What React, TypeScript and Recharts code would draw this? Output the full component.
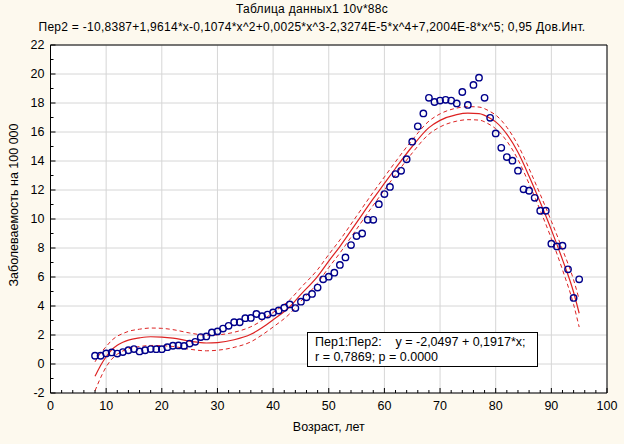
import React from "react";
import { ComposedChart, Scatter, Line, XAxis, YAxis, CartesianGrid } from "recharts";

// observed values, ages 8..95
const ages = [
  8, 9, 10, 11, 12, 13, 14, 15, 16, 17, 18, 19, 20, 21, 22, 23, 24, 25, 26, 27, 28, 29,
  30, 31, 32, 33, 34, 35, 36, 37, 38, 39, 40, 41, 42, 43, 44, 45, 46, 47, 48, 49, 50, 51,
  52, 53, 54, 55, 56, 57, 58, 59, 60, 61, 62, 63, 64, 65, 66, 67, 68, 69, 70, 71, 72, 73,
  74, 75, 76, 77, 78, 79, 80, 81, 82, 83, 84, 85, 86, 87, 88, 89, 90, 91, 92, 93, 94, 95,
];
const rates = [
  0.57, 0.57, 0.73, 0.8, 0.72, 0.82, 0.95, 1.03, 0.87, 0.95, 1.03, 1.02, 1.02, 1.16, 1.26, 1.28, 1.25, 1.41, 1.53, 1.86, 1.9, 2.18,
  2.25, 2.44, 2.63, 2.88, 2.88, 3.16, 3.18, 3.45, 3.3, 3.41, 3.55, 3.69, 3.88, 4.11, 3.86, 4.3, 4.6, 4.83, 5.27, 5.84, 6.02, 6.3,
  6.83, 7.35, 8.2, 8.82, 9.0, 9.94, 9.94, 11.02, 11.72, 12.21, 13.1, 13.32, 14.12, 15.33, 16.39, 17.28, 18.36, 18.07, 18.17, 18.22, 18.17, 17.97,
  18.76, 17.87, 19.25, 19.75, 18.36, 16.98, 15.9, 14.91, 14.27, 14.02, 13.33, 12.05, 11.95, 11.46, 10.57, 10.57, 8.3, 8.11, 8.16, 6.53, 4.56, 5.84,
];

// fitted curve and 0.95 band
const curveAges = [8, 9, 10, 11, 12, 13, 14, 16, 18, 20, 22, 25, 28, 30, 33, 36, 38, 40, 43, 45, 48, 50, 52, 55, 58, 60, 62, 65, 68, 70, 73, 75, 77, 79, 80, 82, 84, 86, 88, 90, 92, 94, 95];
const fitValues = [-0.85, -0.1, 0.5, 0.98, 1.3, 1.5, 1.65, 1.8, 1.88, 1.86, 1.79, 1.58, 1.45, 1.48, 1.67, 2.05, 2.5, 3.05, 3.95, 4.8, 6.05, 7.1, 8.1, 9.75, 11.4, 12.45, 13.5, 15.0, 16.3, 16.8, 17.2, 17.3, 17.27, 16.95, 16.7, 15.85, 14.6, 12.95, 11.15, 9.25, 7.2, 4.95, 3.5];
const upperValues = [0.15, 0.75, 1.2, 1.63, 1.92, 2.1, 2.25, 2.4, 2.48, 2.46, 2.37, 2.14, 1.99, 2.01, 2.19, 2.57, 3.0, 3.55, 4.43, 5.27, 6.51, 7.55, 8.55, 10.2, 11.85, 12.9, 13.95, 15.45, 16.75, 17.25, 17.65, 17.75, 17.72, 17.41, 17.17, 16.33, 15.1, 13.47, 11.7, 9.85, 7.9, 5.8, 4.45];
const lowerValues = [-1.85, -0.95, -0.2, 0.33, 0.68, 0.9, 1.05, 1.2, 1.28, 1.26, 1.21, 1.02, 0.91, 0.95, 1.15, 1.53, 2.0, 2.55, 3.47, 4.33, 5.59, 6.65, 7.65, 9.3, 10.95, 12.0, 13.05, 14.55, 15.85, 16.35, 16.75, 16.85, 16.82, 16.49, 16.23, 15.37, 14.1, 12.43, 10.6, 8.65, 6.5, 4.1, 2.55];

const xTicks = Array.from({ length: 51 }, (_, i) => i * 2);
const yTicks = Array.from({ length: 25 }, (_, i) => i - 2);
const xGrid = [0, 10, 20, 30, 40, 50, 60, 70, 80, 90, 100];
const yGrid = [-2, 0, 2, 4, 6, 8, 10, 12, 14, 16, 18, 20, 22];

const points = ages.map((a, i) => ({ age: a, value: rates[i] }));
const curve = curveAges.map((a, i) => ({ age: a, fit: fitValues[i], hi: upperValues[i], lo: lowerValues[i] }));

const W = 624;
const H = 444;
const LEFT = 50.5;
const RIGHT = 607;
const TOP = 45;
const BOTTOM = 393;
const FONT = "'Liberation Sans', Arial, sans-serif";
const RED = "#dd2222";

const BottomTick = (p: any) => {
  const v = p.payload.value;
  const major = v % 10 === 0;
  const x = p.payload.coordinate;
  return (
    <g>
      <line x1={x} x2={x} y1={BOTTOM} y2={BOTTOM - (major ? 5 : 3)} stroke="#000" />
      {major && (
        <text x={x} y={BOTTOM + 17} textAnchor="middle" fontSize={12.5} fontFamily={FONT} fill="#000">
          {v}
        </text>
      )}
    </g>
  );
};

const TopTick = (p: any) => {
  const v = p.payload.value;
  const x = p.payload.coordinate;
  return <line x1={x} x2={x} y1={TOP} y2={TOP + (v % 10 === 0 ? 5 : 3)} stroke="#000" />;
};

const LeftTick = (p: any) => {
  const v = p.payload.value;
  const major = v % 2 === 0;
  const y = p.payload.coordinate;
  return (
    <g>
      <line x1={LEFT} x2={LEFT + (major ? 5 : 3)} y1={y} y2={y} stroke="#000" />
      {major && (
        <text x={LEFT - 6} y={y + 4} textAnchor="end" fontSize={12.5} fontFamily={FONT} fill="#000">
          {v}
        </text>
      )}
    </g>
  );
};

const RightTick = (p: any) => {
  const v = p.payload.value;
  const y = p.payload.coordinate;
  return <line x1={RIGHT} x2={RIGHT - (v % 2 === 0 ? 5 : 3)} y1={y} y2={y} stroke="#000" />;
};

const Dot = (p: any) => (
  <circle cx={p.cx} cy={p.cy} r={3.2} fill="none" stroke="#00008b" strokeWidth={1.4} />
);

const App = () => {
  return (
    <div style={{ position: "fixed", left: 0, top: 0, width: W, height: H, background: "#fdf9ee", fontFamily: FONT }}>
      <div style={{ position: "absolute", left: 0, width: W, top: 2, textAlign: "center", fontSize: 12, letterSpacing: "0.3px" }}>
        Таблица данных1 10v*88c
      </div>
      <div style={{ position: "absolute", left: 0, width: W, top: 20, textAlign: "center", fontSize: 12, letterSpacing: "0.27px", whiteSpace: "nowrap" }}>
        Пер2 = -10,8387+1,9614*x-0,1074*x^2+0,0025*x^3-2,3274E-5*x^4+7,2004E-8*x^5; 0,95 Дов.Инт.
      </div>
      <ComposedChart
        width={W}
        height={H}
        margin={{ top: TOP - 1, right: W - RIGHT - 1, bottom: 21, left: LEFT - 40 }}
      >
        <CartesianGrid
          xAxisId="b"
          yAxisId="l"
          fill="#ffffff"
          fillOpacity={1}
          stroke="#d6d6d6"
          verticalValues={xGrid}
          horizontalValues={yGrid}
        />
        <XAxis xAxisId="b" dataKey="age" type="number" domain={[0, 100]} ticks={xTicks} interval={0}
          orientation="bottom" height={30} axisLine={{ stroke: "#000" }} tickLine={false} tick={BottomTick} />
        <XAxis xAxisId="t" dataKey="age" type="number" domain={[0, 100]} ticks={xTicks} interval={0}
          orientation="top" height={1} axisLine={{ stroke: "#000" }} tickLine={false} tick={TopTick} />
        <YAxis yAxisId="l" dataKey="value" type="number" domain={[-2, 22]} ticks={yTicks} interval={0}
          orientation="left" width={40} axisLine={{ stroke: "#000" }} tickLine={false} tick={LeftTick} />
        <YAxis yAxisId="r" type="number" domain={[-2, 22]} ticks={yTicks} interval={0}
          orientation="right" width={1} axisLine={{ stroke: "#000" }} tickLine={false} tick={RightTick} />
        <Scatter xAxisId="b" yAxisId="l" data={points} dataKey="value" shape={Dot} isAnimationActive={false} />
        <Line xAxisId="b" yAxisId="l" data={curve} dataKey="hi" type="monotone" stroke={RED} strokeWidth={1}
          strokeDasharray="4 3" dot={false} isAnimationActive={false} />
        <Line xAxisId="b" yAxisId="l" data={curve} dataKey="lo" type="monotone" stroke={RED} strokeWidth={1}
          strokeDasharray="4 3" dot={false} isAnimationActive={false} />
        <Line xAxisId="b" yAxisId="l" data={curve} dataKey="fit" type="monotone" stroke={RED} strokeWidth={1.2}
          dot={false} isAnimationActive={false} />
      </ComposedChart>
      <div style={{ position: "absolute", left: 0, top: 420, width: W, paddingLeft: LEFT, boxSizing: "border-box" }}>
        <div style={{ width: RIGHT - LEFT, textAlign: "center", fontSize: 12.5 }}>Возраст, лет</div>
      </div>
      <div style={{
        position: "absolute", left: 14, top: 205, transform: "translate(-50%, -50%) rotate(-90deg)",
        fontSize: 12.5, whiteSpace: "nowrap",
      }}>
        Заболеваемость на 100 000
      </div>
      <div style={{
        position: "absolute", left: 307, top: 332, width: 231, height: 35, boxSizing: "border-box",
        border: "1px solid #000", background: "#fff", fontSize: 12.5, lineHeight: "15px",
        padding: "2px 0 0 7px", whiteSpace: "pre",
      }}>
        {"Пер1:Пер2:    y = -2,0497 + 0,1917*x;\nr = 0,7869; p = 0.0000"}
      </div>
    </div>
  );
};

export default App;
